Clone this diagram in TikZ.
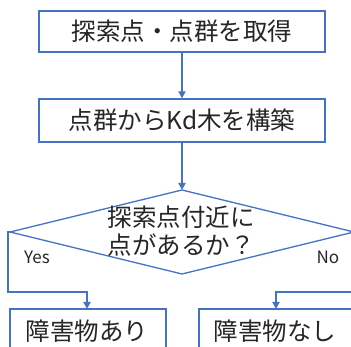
\documentclass[tikz,border=0pt]{standalone}
\usepackage{fontspec}
\setmainfont{Noto Sans CJK JP}
\usetikzlibrary{arrows.meta,shapes.geometric}
\definecolor{ofblue}{HTML}{4472C4}
\tikzset{
  box/.style={draw=ofblue,line width=1.3pt,fill=white,rectangle,inner sep=0pt,font=\fontsize{24.5}{28}\selectfont,text=black!85},
  txt/.style={font=\fontsize{24.5}{28}\selectfont,text=black!85},
  conn/.style={draw=ofblue,line width=1.8pt,-{Triangle[width=7pt,length=7pt]}},
  lab/.style={font=\fontsize{17}{20}\selectfont,text=black!85}
}
\begin{document}
\begin{tikzpicture}[x=1pt,y=-1pt]
\useasboundingbox (0,0) rectangle (351,347);
\clip (0,0) rectangle (351,347);
\node[box,minimum width=286pt,minimum height=41pt] (b1) at (182,31.5) {探索点・点群を取得};
\node[box,minimum width=286pt,minimum height=43pt] (b2) at (182,120.5) {点群からKd木を構築};
\draw[draw=ofblue,line width=1.3pt,fill=white] (10,232) coordinate (dw) -- (182,190) coordinate (dn) -- (354,232) coordinate (de) -- (182,274) coordinate (ds) -- cycle;
\node[txt,align=center] (dt) at (181,231) {探索点付近に\\[-0.5pt]点があるか？};
\node[box,minimum width=156pt,minimum height=60pt] (b3) at (88,339) {};
\node[box,minimum width=156pt,minimum height=60pt] (b4) at (277,339) {};
\node[txt] (t3) at (87,331) {障害物あり};
\node[txt] (t4) at (275,331) {障害物なし};
\draw[conn] (b1.south) -- (b2.north);
\draw[conn] (b2.south) -- (dn);
\coordinate (lc) at (8,292);
\coordinate (rc) at (357,292);
\draw[conn] (dw) -- (8,232) -- (lc) -- (87,292) -- (87,309);
\draw[conn] (de) -- (357,232) -- (rc) -- (276,292) -- (276,309);
\node[lab] (yes) at (37,257) {Yes};
\node[lab] (no) at (328,257) {No};
\end{tikzpicture}
\end{document}
